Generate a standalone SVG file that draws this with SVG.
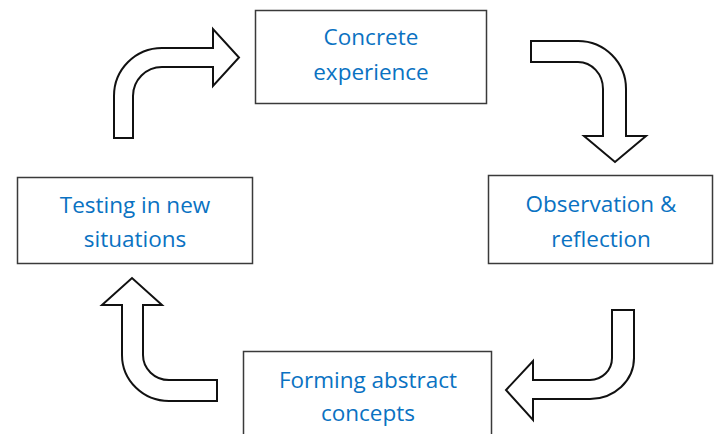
<svg xmlns="http://www.w3.org/2000/svg" width="715" height="434" viewBox="0 0 715 434">
  <style>
    .box { fill: #ffffff; stroke: #3a3a3a; stroke-width: 1.5; }
    .lbl { font-family: "Open Sans", "Noto Sans", "Liberation Sans", sans-serif; font-size: 22.5px; fill: #0a72c2; text-anchor: middle; }
    .arrow { fill: #ffffff; stroke: #111111; stroke-width: 2; stroke-linejoin: miter; }
  </style>
  <rect x="0" y="0" width="715" height="434" fill="#ffffff"/>

  <g id="concrete-experience">
    <rect class="box" x="255.5" y="10.5" width="231" height="93"/>
    <text class="lbl" x="371" y="45">Concrete</text>
    <text class="lbl" x="371" y="80">experience</text>
  </g>

  <g id="observation-reflection">
    <rect class="box" x="488.5" y="175.5" width="224" height="88"/>
    <text class="lbl" x="601" y="212">Observation &amp;</text>
    <text class="lbl" x="601" y="247">reflection</text>
  </g>

  <g id="forming-abstract-concepts">
    <rect class="box" x="243.5" y="351.5" width="248" height="100"/>
    <text class="lbl" x="368" y="388">Forming abstract</text>
    <text class="lbl" x="368" y="421">concepts</text>
  </g>

  <g id="testing-new-situations">
    <rect class="box" x="17.5" y="177.5" width="235" height="86"/>
    <text class="lbl" x="135" y="213">Testing in new</text>
    <text class="lbl" x="135" y="247">situations</text>
  </g>

  <g id="connectors">
    <path class="arrow" d="M 114 138 L 114 96 A 48 48 0 0 1 162 48 L 213 48 L 213 29 L 239 57.5 L 213 86 L 213 67 L 162 67 A 29 29 0 0 0 133 96 L 133 138 Z"/>
    <path class="arrow" d="M 531 41 L 578 41 A 48 48 0 0 1 626 89 L 626 136 L 646 136 L 615 162 L 584 136 L 603 136 L 603 89 A 25 27 0 0 0 578 62 L 531 62 Z"/>
    <path class="arrow" d="M 612 310 L 634 310 L 634 358 A 44 41 0 0 1 590 399 L 533 399 L 533 420 L 506 390 L 533 361 L 533 380 L 590 380 A 22 22 0 0 0 612 358 Z"/>
    <path class="arrow" d="M 217 401 L 169 401 A 47 46 0 0 1 122 355 L 122 305 L 102 305 L 132 278 L 162 305 L 143 305 L 143 355 A 26 25 0 0 0 169 380 L 217 380 Z"/>
  </g>
</svg>
